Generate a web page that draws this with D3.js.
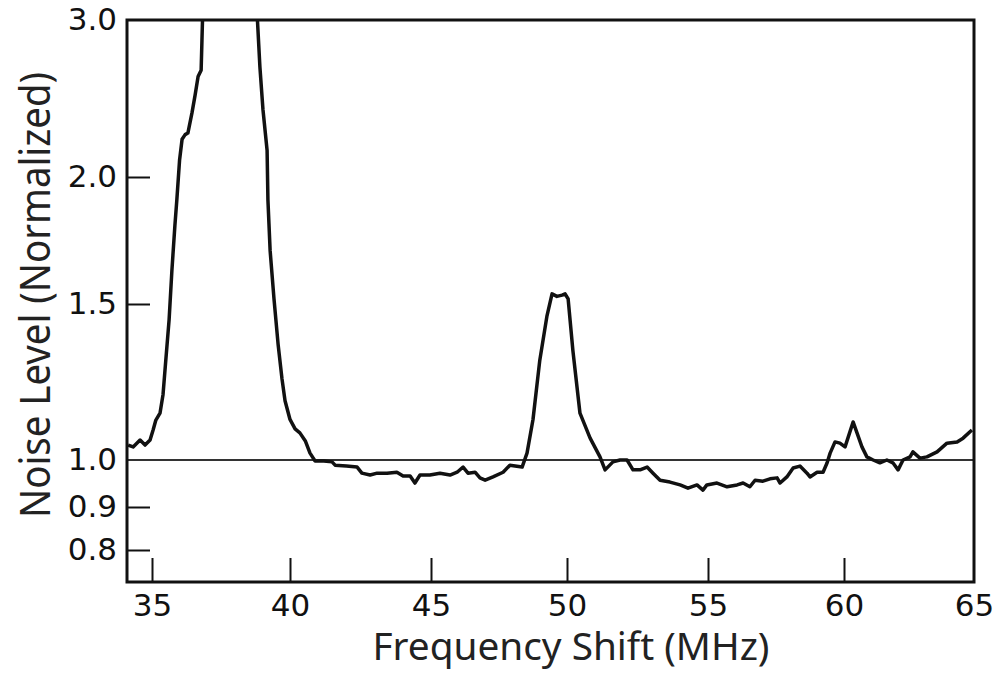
<!DOCTYPE html>
<html>
<head>
<meta charset="utf-8">
<script src="https://cdn.jsdelivr.net/npm/d3@7"></script>
<style>
  html, body { margin: 0; padding: 0; background: #fff; }
  svg { display: block; }
</style>
</head>
<body>
<div id="chart"></div>
<script>
//// ============================== DATA ============================== ////

// frequency shift (MHz)
var freq = [
  34.14, 34.32, 34.57, 34.75, 34.93, 35.04, 35.14, 35.29, 35.4, 35.5,
  35.62, 35.72, 35.83, 35.9, 36.0, 36.09, 36.2, 36.3, 36.45, 36.56,
  36.67, 36.78, 36.81, 36.83, 36.86, 38.76, 38.82, 38.91, 39.02, 39.17,
  39.2, 39.28, 39.42, 39.57, 39.71, 39.82, 40.0, 40.18, 40.35, 40.55,
  40.71, 40.89, 41.2, 41.49, 41.6, 42.0, 42.38, 42.55, 42.84, 43.09,
  43.44, 43.79, 44.01, 44.26, 44.43, 44.61, 44.96, 45.33, 45.7, 45.96,
  46.18, 46.36, 46.62, 46.8, 46.99, 47.28, 47.65, 47.9, 48.35, 48.53,
  48.75, 49.0, 49.26, 49.45, 49.63, 49.82, 49.93, 50.04, 50.21, 50.46,
  50.82, 51.17, 51.35, 51.63, 51.88, 52.13, 52.34, 52.59, 52.84, 53.05,
  53.3, 53.65, 54.01, 54.29, 54.61, 54.82, 54.96, 55.33, 55.7, 56.07,
  56.29, 56.54, 56.73, 57.02, 57.28, 57.54, 57.65, 57.9, 58.13, 58.38,
  58.64, 58.75, 59.01, 59.23, 59.38, 59.49, 59.67, 59.85, 60.04, 60.15,
  60.35, 60.5, 60.69, 60.88, 61.12, 61.38, 61.65, 61.88, 62.08, 62.27,
  62.54, 62.65, 62.92, 63.19, 63.58, 63.96, 64.35, 64.58, 64.92
];

// normalized noise level
var noise = [
  1.048, 1.042, 1.064, 1.048, 1.064, 1.096, 1.128, 1.15, 1.21, 1.32,
  1.45, 1.63, 1.81, 1.91, 2.11, 2.24, 2.27, 2.28, 2.41, 2.52,
  2.64, 2.68, 2.87, 3.0, 3.3, 3.3, 3.0, 2.70, 2.43, 2.17,
  1.91, 1.71, 1.52, 1.37, 1.26, 1.19, 1.13, 1.10, 1.087, 1.06,
  1.022, 0.998, 0.998, 0.996, 0.989, 0.987, 0.985, 0.972, 0.968, 0.972,
  0.972, 0.974, 0.966, 0.966, 0.951, 0.968, 0.968, 0.972, 0.968, 0.974,
  0.985, 0.972, 0.974, 0.962, 0.957, 0.964, 0.974, 0.989, 0.985, 1.022,
  1.13, 1.32, 1.46, 1.54, 1.53, 1.535, 1.54, 1.52, 1.35, 1.15,
  1.07, 1.01, 0.979, 0.996, 1.0, 1.0, 0.979, 0.979, 0.985, 0.972,
  0.957, 0.953, 0.947, 0.940, 0.947, 0.936, 0.947, 0.951, 0.943, 0.947,
  0.951, 0.943, 0.957, 0.955, 0.960, 0.962, 0.951, 0.964, 0.983, 0.987,
  0.972, 0.964, 0.974, 0.974, 0.994, 1.022, 1.058, 1.054, 1.042, 1.07,
  1.122, 1.087, 1.042, 1.01, 1.0, 0.994, 1.0, 0.994, 0.979, 1.0,
  1.01, 1.026, 1.006, 1.01, 1.026, 1.054, 1.058, 1.07, 1.096
];

var xTicks = [35, 40, 45, 50, 55, 60, 65];
var yTicks = [0.8, 0.9, 1.0, 1.5, 2.0, 3.0];
var refLevel = 1.0;

var xTitle = "Frequency Shift (MHz)";
var yTitle = "Noise Level (Normalized)";

//// ============================== LAYOUT ============================== ////

var width = 999,
    height = 673;
var plotLeft = 127, plotRight = 974, plotTop = 20, plotBottom = 582;

var svg = d3.select("#chart").append("svg")
    .attr("width", width)
    .attr("height", height)
    .style("background", "#fff");

// scanned figure: the axes are not quite even, so calibrate on the tick marks
var x = d3.scaleLinear()
    .domain([34.1, 35, 40, 45, 50, 55, 60, 65])
    .range([plotLeft, 152, 290, 431, 567, 708, 844, plotRight]);

var y = d3.scaleLinear()
    .domain([0.74, 0.8, 0.9, 1.0, 1.5, 2.0, 3.0])
    .range([plotBottom, 550, 507, 460, 304, 177, plotTop]);

var ink = "#111";
var tickFont = "'DejaVu Sans', 'Liberation Sans', sans-serif";
var titleFont = "'Noto Sans', 'Open Sans', sans-serif";

svg.append("clipPath")
    .attr("id", "plot-clip")
    .append("rect")
    .attr("x", plotLeft)
    .attr("y", plotTop)
    .attr("width", plotRight - plotLeft)
    .attr("height", plotBottom - plotTop);

//// ============================== AXES ============================== ////

var yAxis = d3.axisLeft(y)
    .tickValues(yTicks)
    .tickSizeInner(-23)
    .tickSizeOuter(0)
    .tickFormat(d3.format(".1f"));

var gy = svg.append("g")
    .attr("transform", "translate(" + plotLeft + ",0)")
    .call(yAxis);

gy.select(".domain").remove();
gy.selectAll(".tick line")
    .attr("stroke", ink)
    .attr("stroke-width", 2)
    .filter(function(d) { return d === 1.0 || d === 3.0; })
    .remove();
gy.selectAll(".tick text")
    .attr("x", -10)
    .attr("fill", ink)
    .style("font-family", tickFont)
    .style("font-size", "31px");

var xAxis = d3.axisBottom(x)
    .tickValues(xTicks)
    .tickSizeInner(-24)
    .tickSizeOuter(0)
    .tickFormat(d3.format("d"));

var gx = svg.append("g")
    .attr("transform", "translate(0," + plotBottom + ")")
    .call(xAxis);

gx.select(".domain").remove();
gx.selectAll(".tick line")
    .attr("stroke", ink)
    .attr("stroke-width", 2)
    .filter(function(d) { return d === 65; })
    .remove();
gx.selectAll(".tick text")
    .attr("y", 12)
    .attr("dy", "0.71em")
    .attr("fill", ink)
    .style("font-family", tickFont)
    .style("font-size", "31px");

// reference line at 1.0
svg.append("line")
    .attr("x1", plotLeft)
    .attr("x2", plotRight)
    .attr("y1", y(refLevel))
    .attr("y2", y(refLevel))
    .attr("stroke", "#333")
    .attr("stroke-width", 2);

//// ============================== TRACE ============================== ////

var points = freq.map(function(f, i) { return [f, noise[i]]; });

var line = d3.line()
    .x(function(d) { return x(d[0]); })
    .y(function(d) { return y(d[1]); });

svg.append("path")
    .datum(points)
    .attr("clip-path", "url(#plot-clip)")
    .attr("d", line)
    .attr("fill", "none")
    .attr("stroke", ink)
    .attr("stroke-width", 3.5)
    .attr("stroke-linejoin", "round");

// frame
svg.append("rect")
    .attr("x", plotLeft)
    .attr("y", plotTop)
    .attr("width", plotRight - plotLeft)
    .attr("height", plotBottom - plotTop)
    .attr("fill", "none")
    .attr("stroke", ink)
    .attr("stroke-width", 3);

//// ============================== TITLES ============================== ////

svg.append("text")
    .attr("x", 571)
    .attr("y", 660)
    .attr("text-anchor", "middle")
    .attr("textLength", 397)
    .attr("lengthAdjust", "spacingAndGlyphs")
    .attr("fill", "#222")
    .style("font-family", titleFont)
    .style("font-size", "38px")
    .text(xTitle);

svg.append("text")
    .attr("transform", "translate(50,295) rotate(-90)")
    .attr("text-anchor", "middle")
    .attr("textLength", 446)
    .attr("lengthAdjust", "spacingAndGlyphs")
    .attr("fill", "#222")
    .style("font-family", titleFont)
    .style("font-size", "41px")
    .text(yTitle);
</script>
</body>
</html>
